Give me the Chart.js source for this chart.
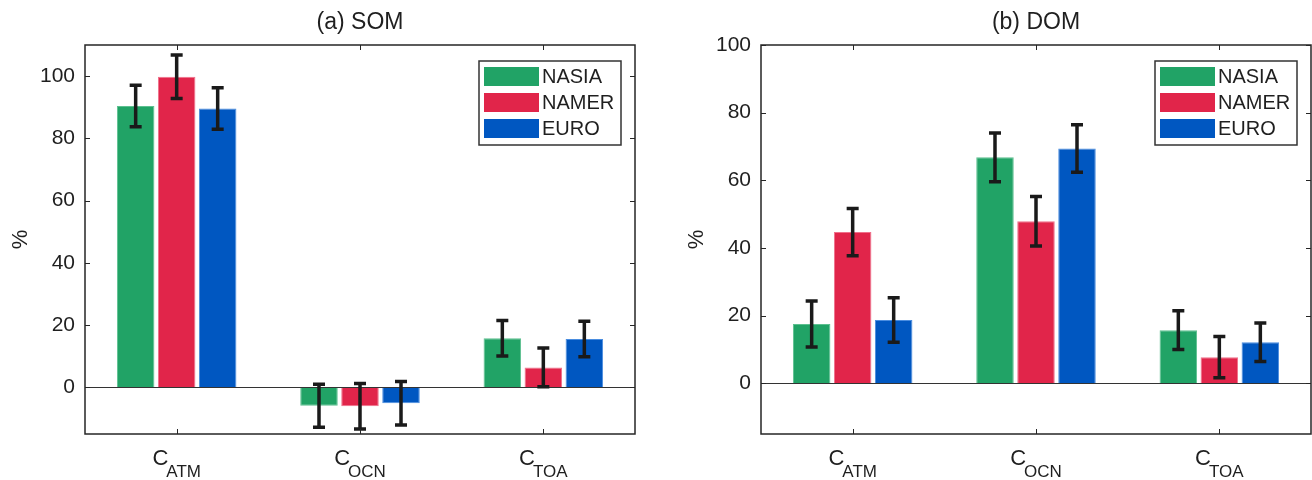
<!DOCTYPE html>
<html>
<head>
<meta charset="utf-8">
<script src="https://cdn.jsdelivr.net/npm/chart.js@4.4.1/dist/chart.umd.min.js"></script>
<style>
    body { margin: 0; background: #fff; }
    #wrap { position: relative; width: 1312px; height: 480px; }
    canvas { position: absolute; top: 0; }
</style>
</head>
<body>
<div id="wrap">
    <canvas id="som" width="656" height="480" style="left:0"></canvas>
    <canvas id="dom" width="656" height="480" style="left:656px"></canvas>
</div>
<script>
const categorias = ['ATM', 'OCN', 'TOA'];
const regioes = ['NASIA', 'NAMER', 'EURO'];
const cores = ['#21a366', '#e1254a', '#0057c1'];
const bordas = ['#5cc08f', '#f0708a', '#4a8de0'];
const yTicks = [0, 20, 40, 60, 80, 100];

// (a) SOM
const somNasia = [90.4, -5.9, 15.8];
const somNamer = [99.8, -6.1, 6.4];
const somEuro = [89.6, -5.1, 15.5];
const somNasiaErro = [6.7, 6.9, 5.7];
const somNamerErro = [7.0, 7.3, 6.2];
const somEuroErro = [6.7, 7.0, 5.7];

// (b) DOM
const domNasia = [17.5, 66.8, 15.7];
const domNamer = [44.7, 47.9, 7.7];
const domEuro = [18.7, 69.4, 12.1];
const domNasiaErro = [6.8, 7.2, 5.7];
const domNamerErro = [7.0, 7.3, 6.1];
const domEuroErro = [6.6, 7.0, 5.7];

const fonte = "'Liberation Sans', Arial, Helvetica, sans-serif";
const corTexto = '#1f1f1f';

const eixos = {
    id: 'eixos',
    afterDatasetsDraw(chart) {
        const ctx = chart.ctx;
        const a = chart.chartArea;
        const x = chart.scales.x;
        const y = chart.scales.y;
        ctx.save();

        // linha do zero
        const y0 = Math.round(y.getPixelForValue(0)) + 0.5;
        ctx.strokeStyle = '#333';
        ctx.lineWidth = 1.2;
        ctx.beginPath();
        ctx.moveTo(a.left, y0);
        ctx.lineTo(a.right, y0);
        ctx.stroke();

        // barras de erro
        ctx.strokeStyle = '#1a1a1a';
        ctx.lineWidth = 3.5;
        chart.data.datasets.forEach((ds, i) => {
            chart.getDatasetMeta(i).data.forEach((bar, j) => {
                const v = ds.data[j];
                const e = ds.erros[j];
                const yTop = y.getPixelForValue(v + e);
                const yBot = y.getPixelForValue(v - e);
                ctx.beginPath();
                ctx.moveTo(bar.x, yTop);
                ctx.lineTo(bar.x, yBot);
                ctx.moveTo(bar.x - 6, yTop);
                ctx.lineTo(bar.x + 6, yTop);
                ctx.moveTo(bar.x - 6, yBot);
                ctx.lineTo(bar.x + 6, yBot);
                ctx.stroke();
            });
        });

        // moldura e marcas internas
        ctx.strokeStyle = '#262626';
        ctx.lineWidth = 1.5;
        ctx.strokeRect(a.left, a.top, a.right - a.left, a.bottom - a.top);
        ctx.lineWidth = 1;
        ctx.beginPath();
        y.ticks.forEach(t => {
            const py = Math.round(y.getPixelForValue(t.value)) + 0.5;
            ctx.moveTo(a.left, py); ctx.lineTo(a.left + 5, py);
            ctx.moveTo(a.right, py); ctx.lineTo(a.right - 5, py);
        });
        chart.data.labels.forEach((l, i) => {
            const px = Math.round(x.getPixelForValue(i)) + 0.5;
            ctx.moveTo(px, a.bottom); ctx.lineTo(px, a.bottom - 5);
            ctx.moveTo(px, a.top); ctx.lineTo(px, a.top + 5);
        });
        ctx.stroke();

        // rotulos C com subscrito
        ctx.fillStyle = corTexto;
        ctx.textBaseline = 'alphabetic';
        ctx.textAlign = 'left';
        chart.data.labels.forEach((l, i) => {
            const px = x.getPixelForValue(i);
            ctx.font = '22px ' + fonte;
            const wC = ctx.measureText('C').width;
            ctx.font = '17px ' + fonte;
            const wS = ctx.measureText(l).width;
            const x0 = px - (wC + wS - 2) / 2;
            ctx.font = '22px ' + fonte;
            ctx.fillText('C', x0, a.bottom + 31);
            ctx.font = '17px ' + fonte;
            ctx.fillText(l, x0 + wC - 2, a.bottom + 43);
        });

        // titulo
        ctx.font = '23px ' + fonte;
        ctx.textAlign = 'center';
        ctx.textBaseline = 'middle';
        ctx.fillText(chart.options.plugins.eixos.titulo, (a.left + a.right) / 2, 23);

        // legenda
        const lw = 142, lh = 84;
        const lx = a.right - 14 - lw;
        const ly = a.top + 16;
        ctx.fillStyle = '#fff';
        ctx.fillRect(lx, ly, lw, lh);
        ctx.strokeStyle = '#333';
        ctx.lineWidth = 1.5;
        ctx.strokeRect(lx, ly, lw, lh);
        ctx.font = '20px ' + fonte;
        ctx.textAlign = 'left';
        chart.data.datasets.forEach((ds, i) => {
            const ry = ly + 6 + i * 26;
            ctx.fillStyle = ds.backgroundColor;
            ctx.fillRect(lx + 5, ry, 55, 19);
            ctx.fillStyle = corTexto;
            ctx.fillText(ds.label, lx + 63, ry + 10.5);
        });

        ctx.restore();
    }
};

function criarGrafico(canvasId, titulo, series, erros, yMax, padEsq, padDir) {
    const ctx = document.getElementById(canvasId).getContext('2d');
    new Chart(ctx, {
        type: 'bar',
        data: {
            labels: categorias,
            datasets: regioes.map((r, i) => ({
                label: r,
                data: series[i],
                erros: erros[i],
                backgroundColor: cores[i],
                borderColor: bordas[i],
                borderWidth: 1,
                barPercentage: 0.915,
                categoryPercentage: 0.671
            }))
        },
        options: {
            responsive: false,
            animation: false,
            devicePixelRatio: 1,
            layout: { padding: { top: 45, left: padEsq, right: padDir, bottom: 0 } },
            plugins: {
                legend: { display: false },
                tooltip: { enabled: false },
                eixos: { titulo: titulo }
            },
            scales: {
                x: {
                    grid: { display: false, drawTicks: false },
                    border: { display: false },
                    ticks: { display: false },
                    afterFit(s) { s.height = 46; }
                },
                y: {
                    min: -15,
                    max: yMax,
                    afterBuildTicks(s) { s.ticks = yTicks.map(v => ({ value: v })); },
                    grid: { display: false, drawTicks: false },
                    border: { display: false },
                    ticks: { padding: 10, color: corTexto, font: { size: 21, family: fonte } },
                    title: {
                        display: true,
                        text: '%',
                        color: corTexto,
                        font: { size: 22, family: fonte },
                        padding: { top: 8, bottom: 0 }
                    },
                    afterFit(s) { s.width = 85; }
                }
            }
        },
        plugins: [eixos]
    });
}

criarGrafico('som', '(a) SOM',
    [somNasia, somNamer, somEuro],
    [somNasiaErro, somNamerErro, somEuroErro], 110, 0, 21);
criarGrafico('dom', '(b) DOM',
    [domNasia, domNamer, domEuro],
    [domNasiaErro, domNamerErro, domEuroErro], 100, 20, 1);
</script>
</body>
</html>
